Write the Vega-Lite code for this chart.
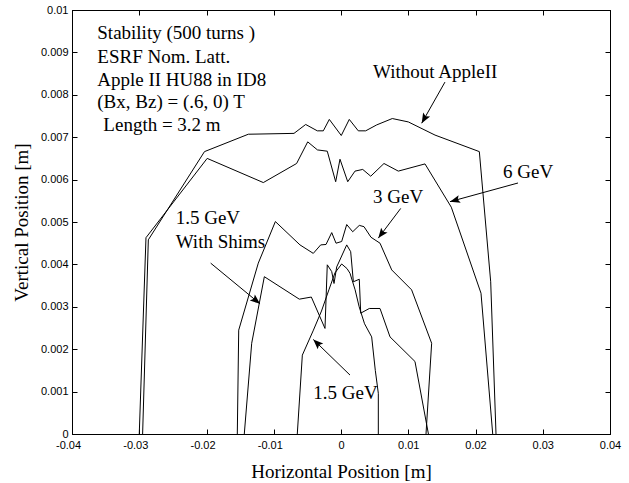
{
  "$schema": "https://vega.github.io/schema/vega-lite/v6.json",
  "width": 538,
  "height": 424,
  "autosize": {"type": "none"},
  "padding": {"left": 72, "top": 10, "right": 19, "bottom": 49},
  "background": "white",
  "config": {
    "view": {"stroke": "black", "strokeWidth": 1},
    "axis": {
      "grid": false,
      "domainColor": "black",
      "tickColor": "black",
      "tickSize": -5,
      "labelFont": "Liberation Sans",
      "labelFontSize": 11,
      "labelColor": "black",
      "titleFont": "Liberation Serif",
      "titleFontSize": 19,
      "titleFontWeight": "normal",
      "titleColor": "black"
    }
  },
  "datasets": {
    "curves": [
      {"s": "W", "x": -0.0295, "y": 0},
      {"s": "W", "x": -0.02865, "y": 0.00458},
      {"s": "W", "x": -0.0203, "y": 0.00666},
      {"s": "W", "x": -0.01378, "y": 0.00707},
      {"s": "W", "x": -0.00699, "y": 0.00709},
      {"s": "W", "x": -0.00525, "y": 0.0073},
      {"s": "W", "x": -0.00352, "y": 0.00715},
      {"s": "W", "x": -0.00263, "y": 0.00715},
      {"s": "W", "x": -0.00174, "y": 0.00742},
      {"s": "W", "x": 0.00004, "y": 0.00704},
      {"s": "W", "x": 0.00123, "y": 0.00742},
      {"s": "W", "x": 0.00257, "y": 0.00715},
      {"s": "W", "x": 0.00367, "y": 0.00715},
      {"s": "W", "x": 0.00531, "y": 0.00729},
      {"s": "W", "x": 0.00763, "y": 0.00744},
      {"s": "W", "x": 0.01001, "y": 0.00736},
      {"s": "W", "x": 0.01398, "y": 0.00705},
      {"s": "W", "x": 0.02057, "y": 0.00666},
      {"s": "W", "x": 0.02226, "y": 0.00359},
      {"s": "W", "x": 0.02305, "y": 0},
      {"s": "S", "x": -0.03, "y": 0},
      {"s": "S", "x": -0.029, "y": 0.00463},
      {"s": "S", "x": -0.0199, "y": 0.0065},
      {"s": "S", "x": -0.01155, "y": 0.00593},
      {"s": "S", "x": -0.0066, "y": 0.00638},
      {"s": "S", "x": -0.00495, "y": 0.00689},
      {"s": "S", "x": -0.0035, "y": 0.0067},
      {"s": "S", "x": -0.00204, "y": 0.00667},
      {"s": "S", "x": -0.00079, "y": 0.00595},
      {"s": "S", "x": -0.00015, "y": 0.00648},
      {"s": "S", "x": 0.001, "y": 0.00595},
      {"s": "S", "x": 0.00208, "y": 0.0062},
      {"s": "S", "x": 0.00323, "y": 0.00624},
      {"s": "S", "x": 0.00442, "y": 0.00608},
      {"s": "S", "x": 0.00639, "y": 0.00638},
      {"s": "S", "x": 0.00852, "y": 0.0062},
      {"s": "S", "x": 0.01249, "y": 0.00637},
      {"s": "S", "x": 0.0164, "y": 0.00535},
      {"s": "S", "x": 0.02082, "y": 0.00332},
      {"s": "S", "x": 0.02256, "y": 0},
      {"s": "T", "x": -0.01542, "y": 0},
      {"s": "T", "x": -0.01521, "y": 0.00245},
      {"s": "T", "x": -0.0123, "y": 0.00403},
      {"s": "T", "x": -0.00976, "y": 0.00501},
      {"s": "T", "x": -0.0061, "y": 0.00446},
      {"s": "T", "x": -0.00412, "y": 0.00426},
      {"s": "T", "x": -0.00302, "y": 0.00446},
      {"s": "T", "x": -0.00223, "y": 0.00447},
      {"s": "T", "x": -0.00138, "y": 0.00475},
      {"s": "T", "x": -0.00074, "y": 0.0045},
      {"s": "T", "x": 0.0001, "y": 0.00454},
      {"s": "T", "x": 0.00085, "y": 0.00494},
      {"s": "T", "x": 0.00174, "y": 0.00477},
      {"s": "T", "x": 0.00272, "y": 0.00492},
      {"s": "T", "x": 0.00342, "y": 0.00489},
      {"s": "T", "x": 0.00446, "y": 0.00464},
      {"s": "T", "x": 0.0058, "y": 0.0045},
      {"s": "T", "x": 0.00754, "y": 0.00387},
      {"s": "T", "x": 0.0105, "y": 0.0034},
      {"s": "T", "x": 0.01348, "y": 0.00214},
      {"s": "T", "x": 0.01264, "y": 0},
      {"s": "H", "x": -0.01438, "y": 0},
      {"s": "H", "x": -0.01328, "y": 0.00214},
      {"s": "H", "x": -0.0114, "y": 0.00371},
      {"s": "H", "x": -0.0062, "y": 0.00318},
      {"s": "H", "x": -0.00441, "y": 0.00323},
      {"s": "H", "x": -0.00238, "y": 0.00249},
      {"s": "H", "x": -0.00204, "y": 0.00399},
      {"s": "H", "x": -0.00138, "y": 0.00383},
      {"s": "H", "x": -0.00104, "y": 0.00355},
      {"s": "H", "x": -0.00064, "y": 0.00394},
      {"s": "H", "x": 0.00085, "y": 0.00446},
      {"s": "H", "x": 0.00144, "y": 0.0043},
      {"s": "H", "x": 0.00184, "y": 0.00359},
      {"s": "H", "x": 0.00272, "y": 0.00365},
      {"s": "H", "x": 0.00293, "y": 0.00285},
      {"s": "H", "x": 0.00421, "y": 0.00296},
      {"s": "H", "x": 0.0058, "y": 0.00296},
      {"s": "H", "x": 0.00729, "y": 0.00229},
      {"s": "H", "x": 0.011, "y": 0.00171},
      {"s": "H", "x": 0.013, "y": 0},
      {"s": "G", "x": -0.0065, "y": 0},
      {"s": "G", "x": -0.00575, "y": 0.00186},
      {"s": "G", "x": -0.0041, "y": 0.00245},
      {"s": "G", "x": -0.0029, "y": 0.0029},
      {"s": "G", "x": -0.0018, "y": 0.0034},
      {"s": "G", "x": -0.0009, "y": 0.0038},
      {"s": "G", "x": 0.0001, "y": 0.00401},
      {"s": "G", "x": 0.0009, "y": 0.0039},
      {"s": "G", "x": 0.00134, "y": 0.00379},
      {"s": "G", "x": 0.0021, "y": 0.0034},
      {"s": "G", "x": 0.0027, "y": 0.003},
      {"s": "G", "x": 0.0035, "y": 0.0026},
      {"s": "G", "x": 0.00456, "y": 0.00229},
      {"s": "G", "x": 0.0051, "y": 0.0015},
      {"s": "G", "x": 0.00555, "y": 0.00096},
      {"s": "G", "x": 0.00555, "y": 0}
    ],
    "labels": [
      {"t": "Stability (500 turns )", "x": -0.03624, "y": 0.00945},
      {"t": "ESRF Nom. Latt.", "x": -0.03624, "y": 0.0089},
      {"t": "Apple II HU88 in ID8", "x": -0.03624, "y": 0.00835},
      {"t": "(Bx, Bz) = (.6, 0)  T", "x": -0.03624, "y": 0.00784},
      {"t": "Length = 3.2 m", "x": -0.03534, "y": 0.00729},
      {"t": "Without AppleII", "x": 0.00476, "y": 0.00854},
      {"t": "6 GeV", "x": 0.02409, "y": 0.00618},
      {"t": "3 GeV", "x": 0.00476, "y": 0.00559},
      {"t": "1.5 GeV", "x": -0.02458, "y": 0.00509},
      {"t": "With Shims", "x": -0.02458, "y": 0.00454},
      {"t": "1.5 GeV", "x": -0.00412, "y": 0.00096}
    ],
    "arrows": [
      {"x1": 0.01546, "y1": 0.0083, "x2": 0.012, "y2": 0.00733},
      {"x1": 0.02632, "y1": 0.00592, "x2": 0.01621, "y2": 0.00548},
      {"x1": 0.00888, "y1": 0.00532, "x2": 0.00555, "y2": 0.00462},
      {"x1": -0.01938, "y1": 0.00403, "x2": -0.01204, "y2": 0.00307},
      {"x1": 0.00134, "y1": 0.00139, "x2": -0.00412, "y2": 0.00223}
    ]
  },
  "resolve": {"axis": {"x": "independent", "y": "independent"}},
  "layer": [
    {
      "data": {"name": "curves"},
      "mark": {"type": "line", "color": "black", "strokeWidth": 1},
      "encoding": {
        "x": {
          "field": "x", "type": "quantitative",
          "scale": {"domain": [-0.04, 0.04], "nice": false, "zero": false},
          "axis": {
            "orient": "bottom",
            "values": [-0.04, -0.03, -0.02, -0.01, 0, 0.01, 0.02, 0.03, 0.04],
            "labelExpr": "datum.value == 0 ? '0' : (datum.value < 0 ? '-' + format(-datum.value, '.2f') : format(datum.value, '.2f'))",
            "labelOffset": {"condition": {"test": "datum.value < 0", "value": -4}, "value": 0},
            "labelPadding": 10,
            "labelFlush": false,
            "title": "Horizontal Position [m]",
            "titlePadding": 12
          }
        },
        "y": {
          "field": "y", "type": "quantitative",
          "scale": {"domain": [0, 0.01], "nice": false, "zero": false},
          "axis": {
            "orient": "left",
            "values": [0, 0.001, 0.002, 0.003, 0.004, 0.005, 0.006, 0.007, 0.008, 0.009, 0.01],
            "format": ".3~f",
            "labelPadding": 9,
            "labelFlush": false,
            "title": "Vertical Position [m]",
            "titlePadding": 9
          }
        },
        "detail": {"field": "s"},
        "order": {"value": null}
      }
    },
    {
      "data": {"name": "curves"},
      "mark": {"type": "point", "opacity": 0},
      "encoding": {
        "x": {
          "field": "x", "type": "quantitative",
          "axis": {"orient": "top", "values": [-0.04, -0.03, -0.02, -0.01, 0, 0.01, 0.02, 0.03, 0.04], "labels": false, "title": null}
        },
        "y": {
          "field": "y", "type": "quantitative",
          "axis": {"orient": "right", "values": [0, 0.001, 0.002, 0.003, 0.004, 0.005, 0.006, 0.007, 0.008, 0.009, 0.01], "labels": false, "title": null}
        }
      }
    },
    {
      "data": {"name": "labels"},
      "mark": {"type": "text", "font": "Liberation Serif", "fontSize": 19, "color": "black", "baseline": "middle", "align": "left"},
      "encoding": {
        "x": {"field": "x", "type": "quantitative", "axis": null},
        "y": {"field": "y", "type": "quantitative", "axis": null},
        "text": {"field": "t"}
      }
    },
    {
      "data": {"name": "arrows"},
      "mark": {"type": "rule", "color": "black", "strokeWidth": 1},
      "encoding": {
        "x": {"field": "x1", "type": "quantitative", "axis": null},
        "y": {"field": "y1", "type": "quantitative", "axis": null},
        "x2": {"field": "x2"},
        "y2": {"field": "y2"}
      }
    },
    {
      "data": {"name": "arrows"},
      "transform": [
        {"calculate": "atan2((datum.x2 - datum.x1) * 6725, (datum.y2 - datum.y1) * 42400) * 180 / PI", "as": "ang"}
      ],
      "mark": {"type": "point", "shape": "M0,0L-0.4,1L0,0.8L0.4,1Z", "filled": true, "color": "black", "opacity": 1, "size": 400, "strokeWidth": 0},
      "encoding": {
        "x": {"field": "x2", "type": "quantitative", "axis": null},
        "y": {"field": "y2", "type": "quantitative", "axis": null},
        "angle": {"field": "ang", "type": "quantitative", "scale": null}
      }
    }
  ]
}
